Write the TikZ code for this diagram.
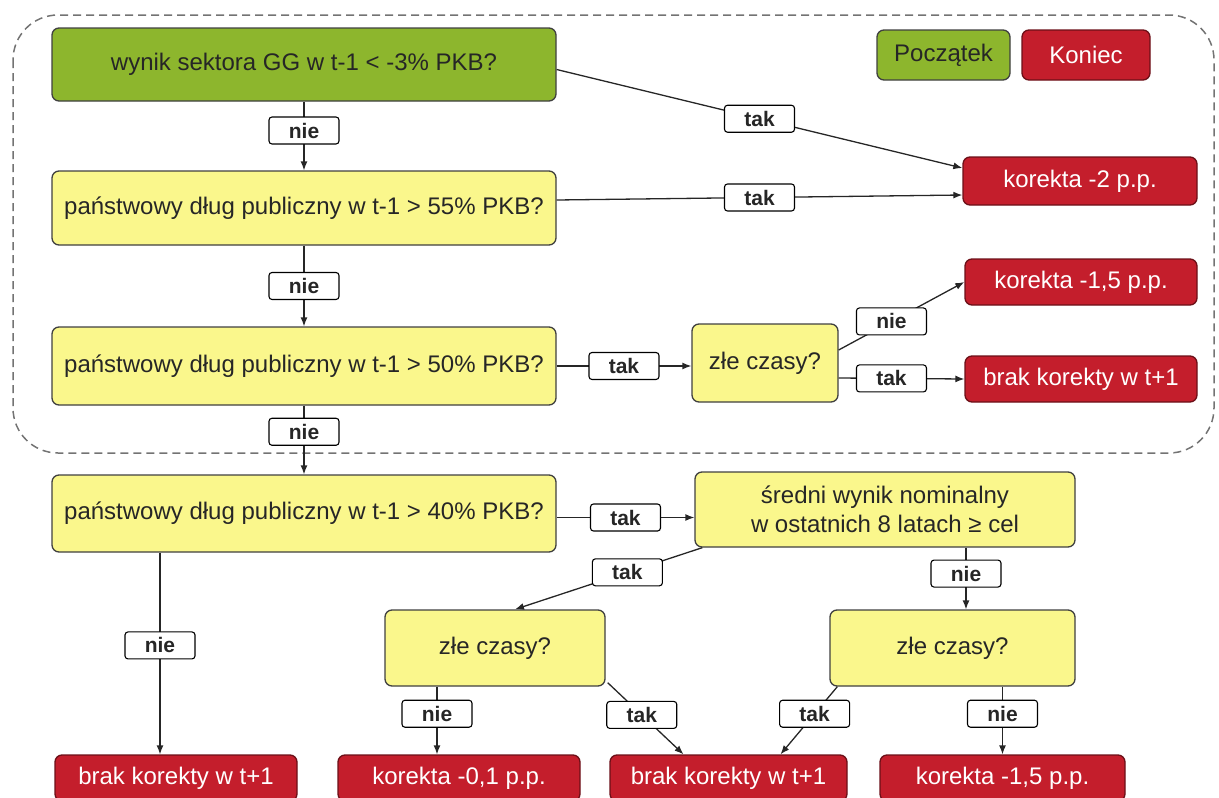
\documentclass[tikz,border=0pt]{standalone}
\usepackage{fontspec}
\setmainfont{Liberation Sans}
\usetikzlibrary{positioning, arrows.meta}
\definecolor{zielen}{RGB}{141,182,45}
\definecolor{zolc}{RGB}{250,247,140}
\definecolor{czerw}{RGB}{196,30,44}
\definecolor{ramka}{gray}{0.25}

\tikzset{
  pole/.style={draw=ramka, line width=1.3pt, rounded corners=7pt,
    align=center, inner sep=0pt, font=\fontsize{24}{29}\selectfont},
  pytanie/.style={pole, fill=zolc, text=black!85},
  start/.style={pole, fill=zielen, text=black!85},
  koniec/.style={pole, fill=czerw, draw=czerw!55!black, text=white},
  etyk/.style={draw=black, fill=white, rounded corners=3pt, line width=1.1pt,
    minimum width=70pt, minimum height=27pt, inner sep=0pt,
    font=\bfseries\fontsize{21}{24}\selectfont},
  strz/.style={-{Latex[length=9pt,width=7pt]}, line width=1.3pt, black!85},
}

\begin{document}
\begin{tikzpicture}[x=1pt, y=-1pt]
  \useasboundingbox (0,0) rectangle (1219,798);

  % --- obszar przerywany, rysowany pierwszy ----------------------------
  \draw[black!55, dashed, dash pattern=on 8pt off 5pt, line width=1.5pt,
        rounded corners=45pt] (13,15) rectangle (1214,453);

  % --- legenda -----------------------------------------------------------
  \node[start, minimum width=133pt, minimum height=50pt] (legs) at (943.5,55) {Początek};
  \node[koniec, minimum width=128pt, minimum height=50pt] (legk) at (1086,55) {Koniec};

  % --- pytania, lewa kolumna --------------------------------------------
  \node[start, minimum width=504pt, minimum height=73pt] (q1) at (304,64.5)
       {wynik sektora GG w t-1 < -3\% PKB?};
  \node[pytanie, minimum width=504pt, minimum height=74pt] (q2) at (304,208)
       {państwowy dług publiczny w t-1 > 55\% PKB?};
  \node[pytanie, minimum width=504pt, minimum height=78pt] (q3) at (304,366)
       {państwowy dług publiczny w t-1 > 50\% PKB?};
  \node[pytanie, minimum width=504pt, minimum height=77pt] (q4) at (304,513.5)
       {państwowy dług publiczny w t-1 > 40\% PKB?};

  % --- pytania pomocnicze -----------------------------------------------
  \node[pytanie, minimum width=146pt, minimum height=78pt] (z1) at (765,363) {złe czasy?};
  \node[pytanie, minimum width=380pt, minimum height=75pt] (sr) at (885,509.5)
       {średni wynik nominalny\\w ostatnich 8 latach ≥ cel};
  \node[pytanie, minimum width=220pt, minimum height=76pt] (z2) at (495,648) {złe czasy?};
  \node[pytanie, minimum width=245pt, minimum height=76pt] (z3) at (952.5,648) {złe czasy?};

  % --- wyniki -----------------------------------------------------------
  \node[koniec, minimum width=234pt, minimum height=48pt] (k2) at (1080,181) {korekta -2 p.p.};
  \node[koniec, minimum width=232pt, minimum height=46pt] (k15a) at (1081,282) {korekta -1,5 p.p.};
  \node[koniec, minimum width=232pt, minimum height=46pt] (b1) at (1081,379) {brak korekty w t+1};
  \node[koniec, minimum width=242pt, minimum height=46pt] (b2) at (176,778) {brak korekty w t+1};
  \node[koniec, minimum width=242pt, minimum height=46pt] (k01) at (459,778) {korekta -0,1 p.p.};
  \node[koniec, minimum width=237pt, minimum height=46pt] (b3) at (728.5,778) {brak korekty w t+1};
  \node[koniec, minimum width=245pt, minimum height=46pt] (k15b) at (1002.5,778) {korekta -1,5 p.p.};

  % --- strzalki, gorna czesc --------------------------------------------
  \draw[strz] (q1) -- node[etyk, pos=0.42]{nie} (q2);
  \draw[strz] ([yshift=-5pt]q1.east) -- node[etyk]{tak} ([yshift=13pt]k2.west);
  \draw[strz] ([yshift=8pt]q2.east) -- node[etyk]{tak} ([yshift=-14pt]k2.west);
  \draw[strz] (q2) -- node[etyk]{nie} (q3);
  \draw[strz] (q3.east) -- node[etyk]{tak} (q3.east -| z1.west);
  \draw[strz] ([yshift=13pt]z1.east) -- node[etyk, pos=0.42]{nie} (k15a.west);
  \draw[strz] ([yshift=-15pt]z1.east) -- node[etyk, pos=0.42]{tak} (b1.west);
  \draw[strz] (q3) -- node[etyk, pos=0.38]{nie} (q4);

  % --- strzalki, dolna czesc --------------------------------------------
  \draw[strz] ([yshift=-4pt]q4.east) -- node[etyk]{tak} ([yshift=-8pt]sr.west);
  \draw[strz] ([xshift=8pt]sr.south west) -- node[etyk, pos=0.4]{tak} ([xshift=20pt]z2.north);
  \draw[strz] ([xshift=81pt]sr.south) -- node[etyk, pos=0.42]{nie} ([xshift=13.5pt]z3.north);
  \draw[strz] ([xshift=-144pt]q4.south) -- node[etyk, pos=0.46]{nie} ([xshift=-16pt]b2.north);
  \draw[strz] ([xshift=-58pt]z2.south) -- node[etyk, pos=0.4]{nie} ([xshift=-22pt]k01.north);
  \draw[strz] ([xshift=2pt, yshift=4pt]z2.south east) -- node[etyk, pos=0.45]{tak} ([xshift=-45pt]b3.north);
  \draw[strz] ([xshift=8pt]z3.south west) -- node[etyk, pos=0.4]{tak} ([xshift=52pt]b3.north);
  \draw[strz] ([xshift=50pt]z3.south) -- node[etyk, pos=0.4]{nie} (k15b.north);
\end{tikzpicture}
\end{document}
